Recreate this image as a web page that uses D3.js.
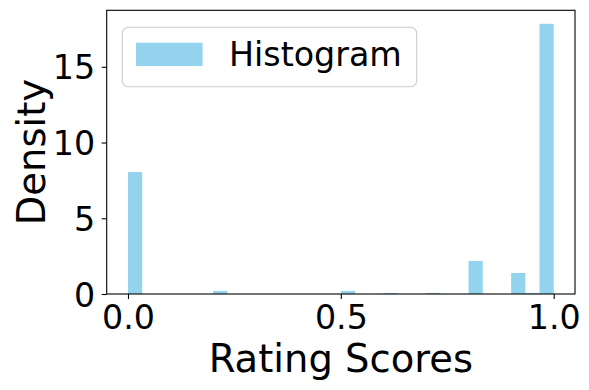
<!DOCTYPE html>
<html><head><meta charset="utf-8">
<script src="https://cdn.jsdelivr.net/npm/d3@7"></script>
<style>body{margin:0;background:#fff}svg{display:block;font-family:"DejaVu Sans",sans-serif}</style>
</head><body><svg id="c" width="589" height="390"></svg>
<script>
// Histogram (density), 30 bins over [0,1]
const binStart = [0.0, 0.2, 0.5, 0.6, 0.7, 0.8, 0.9, 0.93333, 0.96667];
const binWidth = 1 / 30;
const density  = [8.05, 0.20, 0.20, 0.066, 0.066, 2.18, 1.39, 0.066, 17.84];
const xTicks = [0.0, 0.5, 1.0];
const yTicks = [0, 5, 10, 15];
const seriesName = "Histogram";

const svg = d3.select("#c");
const L = 106.7, R = 575, T = 10.3, B = 294;
const x = d3.scaleLinear().domain([-0.05, 1.05]).range([L, R]);
const y = d3.scaleLinear().domain([0, d3.max(density) * 1.05]).range([B, T]);

svg.append("g").selectAll("rect").data(binStart).join("rect")
  .attr("x", d => x(d))
  .attr("width", d => x(d + binWidth) - x(d))
  .attr("y", (d, i) => y(density[i]))
  .attr("height", (d, i) => B - y(density[i]))
  .attr("fill", "#87ceeb").attr("fill-opacity", 0.9);

const xa = svg.append("g").attr("transform", `translate(0,${B})`)
  .call(d3.axisBottom(x).tickValues(xTicks).tickFormat(d3.format(".1f")).tickSize(5).tickPadding(5));
const ya = svg.append("g").attr("transform", `translate(${L},0)`)
  .call(d3.axisLeft(y).tickValues(yTicks).tickSize(5).tickPadding(5));
[xa, ya].forEach(a => {
  a.select(".domain").remove();
  a.selectAll("line").attr("stroke", "#000").attr("stroke-width", 1.1);
  a.selectAll("text").attr("font-size", 33.3).attr("fill", "#000").attr("font-family", "DejaVu Sans");
});
xa.selectAll("text").attr("dy", null).attr("y", 35.3);
ya.selectAll("text").attr("dy", "0.36em").attr("x", -11.5);

svg.append("rect").attr("x", L).attr("y", T).attr("width", R - L).attr("height", B - T)
  .attr("fill", "none").attr("stroke", "#000").attr("stroke-width", 1.1);

svg.append("text").attr("x", (L + R) / 2).attr("y", 372).attr("text-anchor", "middle")
  .attr("font-size", 38.5).text("Rating Scores");
svg.append("text").attr("transform", `translate(45,${(T + B) / 2}) rotate(-90)`)
  .attr("text-anchor", "middle").attr("font-size", 38.5).text("Density");

const lg = svg.append("g");
lg.append("rect").attr("x", 122.3).attr("y", 27.3).attr("width", 294.4).attr("height", 59.4)
  .attr("rx", 6).attr("fill", "#fff").attr("fill-opacity", 0.8)
  .attr("stroke", "#cccccc").attr("stroke-width", 1.1);
lg.append("rect").attr("x", 136).attr("y", 42.7).attr("width", 66.6).attr("height", 23.3)
  .attr("fill", "#87ceeb").attr("fill-opacity", 0.9);
lg.append("text").attr("x", 229).attr("y", 66.2).attr("font-size", 33.3).text(seriesName);
</script></body></html>
